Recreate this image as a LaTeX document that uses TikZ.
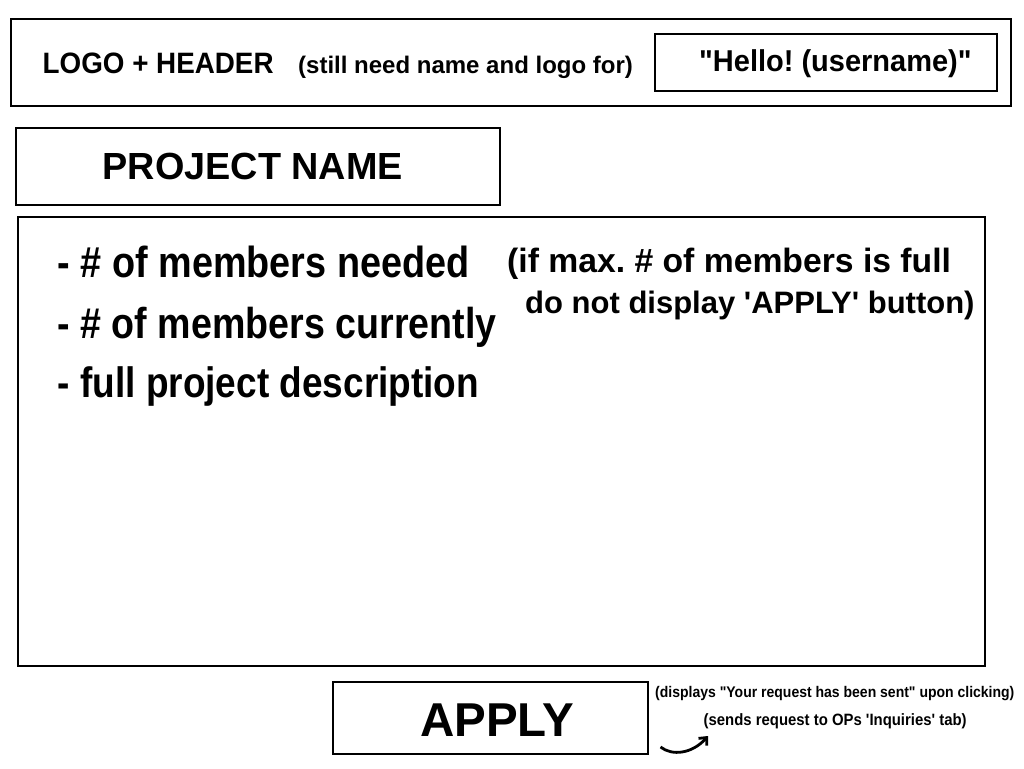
\documentclass[tikz,border=0pt]{standalone}
\usepackage{fontspec}
\setmainfont{Liberation Sans}[Ligatures=TeXOff]
\usetikzlibrary{arrows.meta}
\newcommand{\fs}[1]{\fontsize{#1}{#1}\selectfont\bfseries\frenchspacing}
\tikzset{
  box/.style={draw=black, line width=2.7pt, rectangle, inner sep=0pt},
  txt/.style={inner sep=0pt, anchor=base west, text=black},
}
\begin{document}
\begin{tikzpicture}[x=1pt,y=-1pt]
\useasboundingbox[fill=white] (0,0) rectangle (1024,768);
% boxes
\node[box, minimum width=1000pt, minimum height=87pt] (header) at (511,62.5) {};
\node[box, minimum width=342pt, minimum height=57pt] (hello) at (826,62.5) {};
\node[box, minimum width=484pt, minimum height=77pt] (project) at (258,166.5) {};
\node[box, minimum width=967pt, minimum height=449pt] (main) at (501.5,441.5) {};
\node[box, minimum width=315pt, minimum height=72pt] (apply) at (490.5,718) {};
% header texts
\node[txt] (logo) at (42.5,73.3) {\scalebox{1}[1.06]{\fs{27.8}LOGO + HEADER}};
\node[txt] (still) at (298,73) {\fs{24}(still need name and logo for)};
\node[txt] (hellotxt) at (699,71.7) {\scalebox{1}[1.04]{\fs{29}"Hello! (username)"}};
% project name
\node[txt] (pname) at (102.5,179.3) {\fs{37.8}PROJECT NAME};
% main content
\node[txt] (l1) at (57.5,277.5) {\scalebox{1}[1.15]{\fs{37.8}- \# of members needed}};
\node[txt] (l2) at (57.5,338) {\scalebox{1}[1.15]{\fs{37.6}- \# of members currently}};
\node[txt] (l3) at (57.5,397.5) {\scalebox{1}[1.15]{\fs{37}- full project description}};
\node[txt] (n1) at (507,272) {\fs{33.7}(if max. \# of members is full};
\node[txt] (n2) at (525,313) {\fs{31}do not display 'APPLY' button)};
% apply
\node[txt] (applytxt) at (420,736.7) {\fs{47.5}APPLY};
\node[txt] (d1) at (655,697.3) {\scalebox{1}[1.1]{\fs{14}(displays "Your request has been sent" upon clicking)}};
\node[txt] (d2) at (703.5,725) {\scalebox{1}[1.1]{\fs{14.9}(sends request to OPs 'Inquiries' tab)}};
% arrow
\coordinate (arrS) at (660.5,747);
\coordinate (arrE) at (708,736);
\draw[line width=2.8pt, -{Straight Barb[length=6pt,width=11pt]}] (arrS) .. controls (672,756) and (692,754) .. (arrE);
\end{tikzpicture}
\end{document}
